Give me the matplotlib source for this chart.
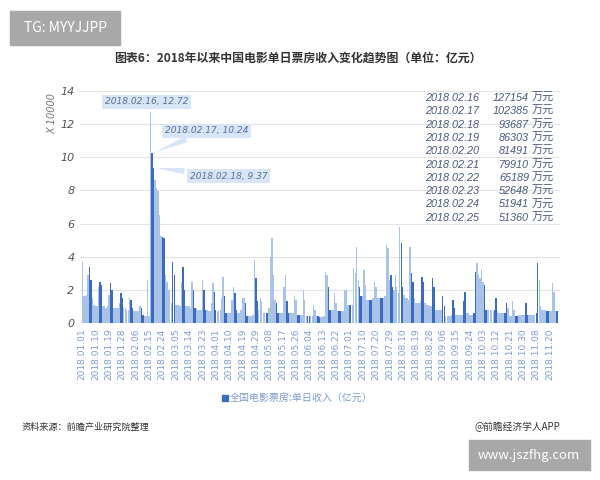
import matplotlib.pyplot as plt
from matplotlib.patches import Rectangle

plt.rcParams['font.family'] = ['Noto Sans CJK SC', 'DejaVu Sans']

# 2018年以来中国电影单日票房（亿元），每日一个值
box_office = [
    3.7, 1.6, 1.6, 1.7, 2.9, 3.4, 2.6, 1.5, 1.1, 1.0, 1.0, 2.2, 2.5, 2.3,
    1.0, 1.0, 0.9, 1.0, 1.7, 2.4, 2.0, 0.9, 0.9, 0.9, 0.9, 1.2, 1.8, 1.5,
    0.9, 0.9, 0.8, 0.8, 1.5, 1.4, 0.9, 0.7, 0.7, 0.7, 0.7, 1.0, 0.9, 0.5,
    0.4, 0.4, 2.6, 0.4, 12.72, 10.24, 9.37, 8.63, 8.15, 7.99, 6.52, 5.26, 5.19, 5.14,
    2.9, 2.5, 2.0, 2.0, 1.2, 3.7, 2.9, 1.1, 1.1, 1.1, 1.0, 2.5, 3.4, 2.0,
    1.0, 1.0, 1.0, 0.9, 2.5, 2.0, 0.9, 0.9, 0.8, 0.8, 0.8, 2.6, 2.0, 0.8,
    0.8, 0.7, 0.7, 1.2, 2.4, 1.9, 0.8, 0.7, 0.7, 0.8, 1.5, 2.8, 1.6, 0.6,
    0.6, 0.6, 0.6, 1.4, 2.2, 1.8, 0.8, 0.6, 0.6, 0.8, 1.5, 1.5, 1.2, 0.4,
    0.4, 0.4, 0.4, 0.5, 3.8, 2.7, 1.3, 0.8, 1.5, 1.3, 0.6, 0.6, 0.6, 0.6,
    0.9, 4.0, 5.1, 2.9, 1.4, 1.2, 0.6, 0.6, 0.6, 0.6, 2.2, 2.9, 1.3, 0.6,
    0.6, 0.6, 0.6, 1.6, 1.4, 0.5, 0.5, 0.5, 0.5, 2.0, 1.4, 0.4, 0.4, 0.4,
    0.4, 0.4, 1.1, 0.8, 0.4, 0.4, 0.35, 0.35, 0.35, 0.4, 3.1, 2.9, 2.2, 0.8,
    0.8, 0.8, 1.8, 1.2, 0.7, 0.7, 0.7, 0.7, 0.7, 2.0, 2.0, 1.1, 1.1, 1.1,
    1.1, 3.3, 3.0, 4.6, 2.6, 2.2, 1.6, 1.6, 3.2, 2.3, 1.4, 1.4, 1.4, 1.4,
    1.5, 2.5, 2.2, 1.5, 1.5, 1.5, 1.5, 1.5, 1.6, 4.7, 4.5, 2.6, 2.9, 2.2,
    2.0, 2.9, 2.2, 1.8, 5.8, 4.8, 2.2, 1.7, 1.5, 1.5, 1.4, 4.6, 3.0, 2.5,
    1.5, 1.2, 1.2, 1.2, 1.3, 2.8, 2.5, 1.2, 1.1, 1.1, 1.0, 1.0, 2.7, 2.2,
    0.8, 0.8, 0.8, 0.8, 0.8, 1.6, 1.0, 0.4, 0.4, 0.4, 0.4, 0.5, 1.4, 0.9,
    0.5, 0.5, 0.5, 0.5, 0.5, 1.3, 1.9, 0.6, 0.6, 0.5, 0.5, 0.5, 0.6, 3.1,
    3.6, 2.9, 2.7, 3.2, 2.5, 2.3, 0.8, 0.8, 0.8, 0.8, 0.8, 0.7, 0.8, 1.5,
    0.7, 0.6, 0.6, 0.6, 0.6, 0.6, 1.2, 0.9, 0.4, 0.4, 1.3, 0.8, 0.4, 0.4,
    0.5, 0.5, 0.5, 0.5, 0.5, 1.2, 0.5, 0.5, 0.5, 0.5, 0.5, 0.5, 0.6, 3.6,
    2.6, 1.0, 0.8, 0.8, 0.8, 0.7, 0.7, 0.7, 0.7, 2.4, 1.9, 0.7, 0.7,
]

tick_labels = ['01.01', '01.10', '01.19', '01.28', '02.06', '02.15', '02.24', '03.05',
               '03.14', '03.23', '04.01', '04.10', '04.19', '04.29', '05.08', '05.17',
               '05.26', '06.04', '06.13', '06.22', '07.01', '07.10', '07.20', '07.29',
               '08.10', '08.19', '08.28', '09.06', '09.15', '09.24', '10.03', '10.12',
               '10.21', '10.30', '11.08', '11.20']

# 春节前后十天
top_dates = ['2018.02.16', '2018.02.17', '2018.02.18', '2018.02.19', '2018.02.20',
             '2018.02.21', '2018.02.22', '2018.02.23', '2018.02.24', '2018.02.25']
top_values = [127154, 102385, 93687, 86303, 81491, 79910, 65189, 52648, 51941, 51360]

dark = '#3b6cc0'
light = '#a9c2e8'
colors = [dark if i % 7 in (5, 6) else light for i in range(len(box_office))]

fig = plt.figure(figsize=(6, 4.8), dpi=100)
ax = fig.add_axes([80 / 600, 1 - 323 / 480, 480 / 600, 232 / 480])

x = list(range(len(box_office)))
ax.bar(x, box_office, width=0.95, color=colors, linewidth=0, zorder=2)

ax.set_xlim(-1.5, len(box_office) + 1)
ax.set_ylim(0, 14)
ax.set_yticks(range(0, 15, 2))
ax.set_yticklabels([str(v) for v in range(0, 15, 2)], fontsize=8, color='#555555',
                   style='italic', family='DejaVu Sans')
ax.set_xticks(range(0, 9 * len(tick_labels), 9))
ax.set_xticklabels(['2018.' + t for t in tick_labels], rotation=90, fontsize=6.5,
                   color='#7f9dcc', family='DejaVu Sans')
ax.tick_params(length=0, pad=4)
ax.grid(axis='y', color='#e3e3e3', linewidth=0.8, zorder=0)
for s in ax.spines.values():
    s.set_visible(False)

fig.text(52 / 600, 1 - 114 / 480, 'X 10000', rotation=90, fontsize=7, color='#777777',
         style='italic', ha='center', va='center', family='DejaVu Sans')

# 春节三天的标注
callouts = [(46, '2018.02.16, 12.72', (15.3, 13.34)),
            (47, '2018.02.17, 10.24', (55.8, 11.59)),
            (48, '2018.02.18, 9.37', (72.6, 8.87))]
for idx, txt, pos in callouts:
    ax.annotate(txt, xy=(idx, box_office[idx]), xytext=pos, fontsize=6.6, color='#5a6f99',
                style='italic', family='DejaVu Sans', va='center', ha='left', zorder=5,
                bbox=dict(boxstyle='square,pad=0.3', fc='#d8e5f6', ec='none'),
                arrowprops=dict(arrowstyle='wedge,tail_width=0.7', fc='#d8e5f6', ec='none'))

for k, (d, v) in enumerate(zip(top_dates, top_values)):
    y = 1 - (98 + k * 13.3) / 480
    fig.text(425 / 600, y, d, fontsize=7.8, color='#4a5a7c', style='italic',
             family='Liberation Sans', va='center')
    fig.text(529 / 600, y, str(v), fontsize=7.8, color='#4a5a7c', style='italic',
             family='Liberation Sans', va='center', ha='right')
    fig.text(532 / 600, y, '万元', fontsize=8, color='#4a5a7c', va='center')

fig.text(0.497, 1 - 58 / 480,
         '图表6：2018年以来中国电影单日票房收入变化趋势图（单位：亿元）',
         fontsize=8.6, fontweight='bold', color='#333333', ha='center', va='center')

fig.patches.append(Rectangle((222 / 600, 1 - 401 / 480), 6 / 600, 6 / 480,
                             transform=fig.transFigure, color=dark))
fig.text(230 / 600, 1 - 398 / 480, '全国电影票房:单日收入（亿元）', fontsize=7.2,
         color='#7f9dcc', va='center')

fig.text(22 / 600, 1 - 427 / 480, '资料来源：前瞻产业研究院整理', fontsize=6.6,
         color='#333333', style='italic', va='center')
fig.text(560 / 600, 1 - 427 / 480, '@前瞻经济学人APP', fontsize=7, color='#333333',
         va='center', ha='right')

fig.patches.append(Rectangle((10 / 600, 1 - 45 / 480), 110 / 600, 34 / 480,
                             transform=fig.transFigure, color='#a8a8a8'))
fig.text(65 / 600, 1 - 28 / 480, 'TG: MYYJJPP', fontsize=10, color='white',
         ha='center', va='center')
fig.patches.append(Rectangle((469 / 600, 1 - 470 / 480), 121 / 600, 30 / 480,
                             transform=fig.transFigure, color='#a8a8a8'))
fig.text(529 / 600, 1 - 455 / 480, 'www.jszfhg.com', fontsize=9.5, color='white',
         ha='center', va='center')

fig.savefig('out.png', dpi=100, facecolor='white')
